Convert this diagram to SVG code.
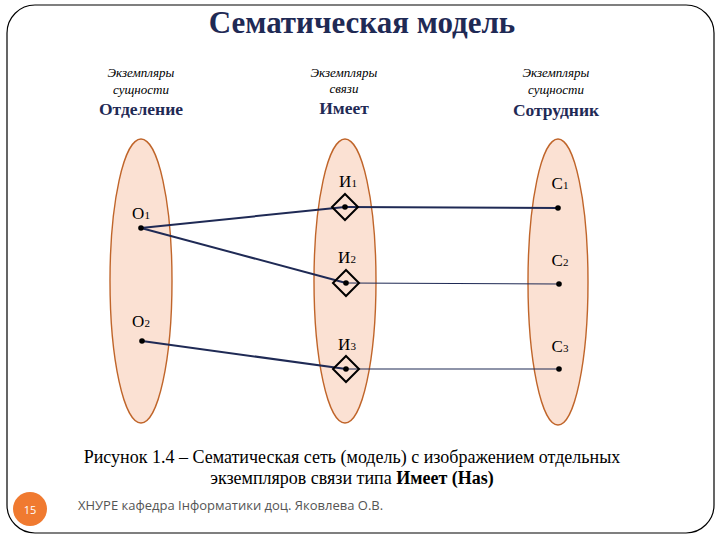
<svg xmlns="http://www.w3.org/2000/svg" width="720" height="540" viewBox="0 0 720 540">
<style>
.ell{fill:#FBE1D3;stroke:#C0652A;stroke-width:1.4}
.t{font-family:"Liberation Serif",serif;fill:#000;text-anchor:middle}
.hd{font-family:"Liberation Serif",serif;font-style:italic;font-size:13px;text-anchor:middle}
.nm{font-family:"Liberation Serif",serif;font-weight:bold;font-size:17.5px;fill:#1F2A55;text-anchor:middle}
.lb{font-family:"Liberation Serif",serif;font-size:17px;text-anchor:middle}
.sb{font-size:11px}
.dm{fill:none;stroke:#000;stroke-width:2}
.ln{stroke:#1F2A55;fill:none}
</style>
<rect x="7" y="5" width="707" height="528" rx="28" fill="#fff" stroke="#000" stroke-width="1.2"/>
<text x="362" y="33" class="t" style="font-size:31px;font-weight:bold;fill:#1F2A55">Сематическая модель</text>
<text x="141" y="77" class="hd">Экземпляры</text><text x="141" y="94" class="hd">сущности</text>
<text x="141" y="115" class="nm">Отделение</text>
<text x="344" y="77" class="hd">Экземпляры</text><text x="344" y="93" class="hd">связи</text>
<text x="344" y="114" class="nm">Имеет</text>
<text x="556" y="77" class="hd">Экземпляры</text><text x="556" y="94" class="hd">сущности</text>
<text x="556" y="116" class="nm">Сотрудник</text>
<g id="ent-left"><ellipse class="ell" cx="141" cy="281" rx="31" ry="142"/></g>
<g id="rel-mid"><ellipse class="ell" cx="345" cy="281" rx="31" ry="142"/></g>
<g id="ent-right"><ellipse class="ell" cx="558" cy="282" rx="30" ry="143"/></g>
<g id="connectors">
<line class="ln" x1="141" y1="228" x2="345" y2="207" stroke-width="2"/>
<line class="ln" x1="141" y1="228" x2="346" y2="283" stroke-width="2"/>
<line class="ln" x1="142" y1="341" x2="346" y2="369" stroke-width="2"/>
<line class="ln" x1="345" y1="207" x2="558" y2="208" stroke-width="2"/>
<line class="ln" x1="346" y1="283" x2="559" y2="284" stroke-width="1.2"/>
<line class="ln" x1="346" y1="369" x2="559" y2="369" stroke-width="1.2"/>
</g>
<g id="O1"><circle cx="141" cy="228" r="2.8"/><text x="141" y="219" class="lb">О<tspan class="sb">1</tspan></text></g>
<g id="O2"><circle cx="142" cy="341" r="2.8"/><text x="141" y="327" class="lb">О<tspan class="sb">2</tspan></text></g>
<g id="I1"><path class="dm" d="M345 194 L358 207 L345 220 L332 207Z"/><circle cx="345" cy="207" r="2.8"/><text x="348" y="187" class="lb">И<tspan class="sb">1</tspan></text></g>
<g id="I2"><path class="dm" d="M346 270 L359 283 L346 296 L333 283Z"/><circle cx="346" cy="283" r="2.8"/><text x="347" y="263" class="lb">И<tspan class="sb">2</tspan></text></g>
<g id="I3"><path class="dm" d="M346 356 L359 369 L346 382 L333 369Z"/><circle cx="346" cy="369" r="2.8"/><text x="347" y="350" class="lb">И<tspan class="sb">3</tspan></text></g>
<g id="C1"><circle cx="558" cy="208" r="2.8"/><text x="560" y="189" class="lb">С<tspan class="sb">1</tspan></text></g>
<g id="C2"><circle cx="559" cy="284" r="2.8"/><text x="560" y="266" class="lb">С<tspan class="sb">2</tspan></text></g>
<g id="C3"><circle cx="559" cy="369" r="2.8"/><text x="560" y="352" class="lb">С<tspan class="sb">3</tspan></text></g>
<text x="352" y="463" class="t" style="font-size:18px">Рисунок 1.4 – Сематическая сеть (модель) с изображением отдельных</text>
<text x="352" y="484" class="t" style="font-size:18px">экземпляров связи типа <tspan font-weight="bold">Имеет (Has)</tspan></text>
<circle cx="30" cy="509" r="17" fill="#F07A30"/>
<text x="30" y="514" style="font-family:'Open Sans',sans-serif;font-size:11px;fill:#fff;text-anchor:middle">15</text>
<text x="78" y="510" style="font-family:'Open Sans',sans-serif;font-size:13px;fill:#555">ХНУРЕ кафедра Інформатики доц. Яковлева О.В.</text>
</svg>
